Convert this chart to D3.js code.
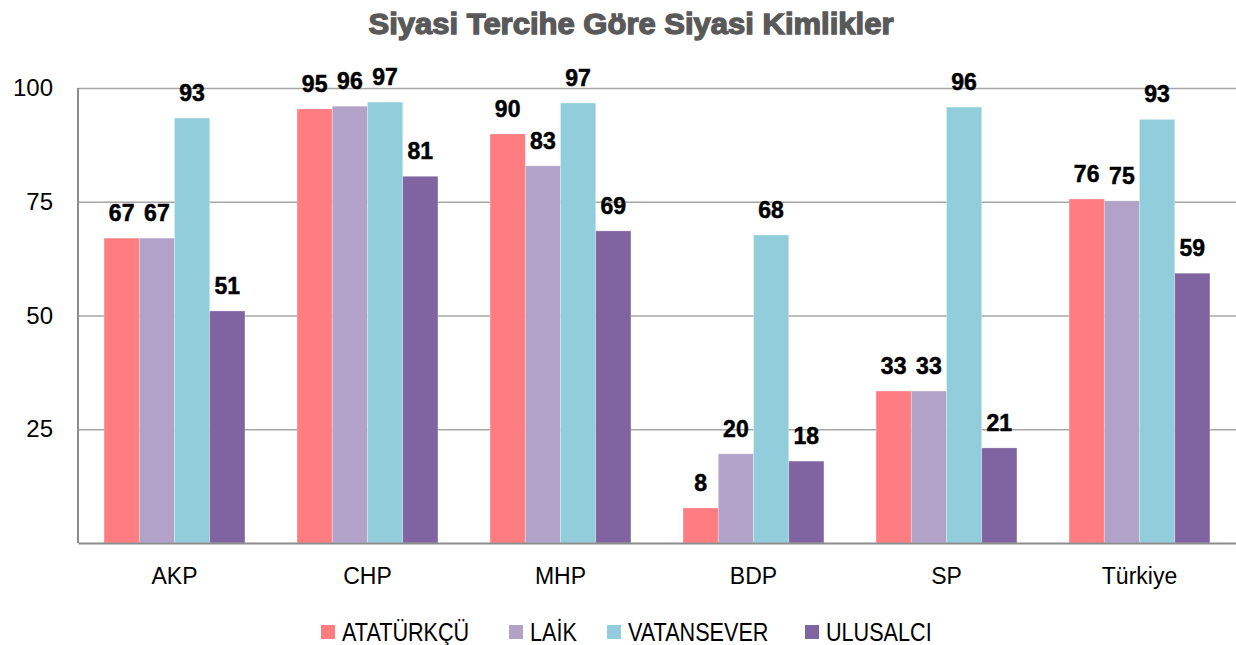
<!DOCTYPE html>
<html>
<head>
<meta charset="utf-8">
<script src="https://cdn.jsdelivr.net/npm/d3@7"></script>
<style>
  body { margin: 0; background: #fff; }
  svg { display: block; font-family: "Liberation Sans", Arial, sans-serif; }
</style>
</head>
<body>
<svg></svg>
<script>
// data
const parties = ["AKP", "CHP", "MHP", "BDP", "SP", "Türkiye"]
const identities = ["ATATÜRKÇÜ", "LAİK", "VATANSEVER", "ULUSALCI"]
const ataturkcu = [67.0, 95.4, 89.9, 7.7, 33.4, 75.6]
const laik = [67.0, 96.0, 82.9, 19.6, 33.4, 75.2]
const vatansever = [93.4, 96.9, 96.7, 67.7, 95.8, 93.1]
const ulusalci = [51.0, 80.6, 68.6, 18.0, 20.9, 59.3]
const yTicks = [25, 50, 75, 100]
const colors = ["#FF7C80", "#B2A2C7", "#92CDDC", "#8064A2"]

const series = [ataturkcu, laik, vatansever, ulusalci]

const svg = d3.select("svg")
    .attr("width", 1236)
    .attr("height", 645)

const scaleX = d3.scaleBand()
    .domain(parties)
    .range([78, 1236])
    .paddingInner(0.27)
    .paddingOuter(0.135)

const scaleSub = d3.scaleBand()
    .domain(identities)
    .range([0, scaleX.bandwidth()])

const scaleY = d3.scaleLinear()
    .domain([0, 100])
    .range([543, 88])

// title
svg.append("text")
    .attr("x", 631)
    .attr("y", 34)
    .attr("text-anchor", "middle")
    .attr("font-size", 29)
    .attr("font-weight", "bold")
    .attr("fill", "#595959")
    .attr("stroke", "#595959")
    .attr("stroke-width", 1.3)
    .attr("textLength", 525)
    .attr("lengthAdjust", "spacingAndGlyphs")
    .text("Siyasi Tercihe Göre Siyasi Kimlikler")

// gridlines + y labels
const yAxis = d3.axisLeft(scaleY)
    .tickValues(yTicks)
    .tickSize(-(1236 - 78))
    .tickPadding(25)

const gy = svg.append("g")
    .attr("transform", "translate(78,0)")
    .call(yAxis)

gy.select(".domain").remove()
gy.selectAll(".tick line")
    .attr("stroke", "#a6a6a6")
    .attr("stroke-width", 1.5)
gy.selectAll(".tick text")
    .attr("font-size", 24)
    .attr("fill", "#000")
    .attr("font-family", "Liberation Sans, Arial, sans-serif")

// bars
const groups = svg.selectAll("g.party")
    .data(parties)
    .enter()
    .append("g")
    .attr("class", "party")
    .attr("transform", d => `translate(${scaleX(d)},0)`)

groups.selectAll("rect")
    .data((d, i) => identities.map((k, j) => ({key: k, value: series[j][i], c: colors[j]})))
    .enter()
    .append("rect")
    .attr("x", d => scaleSub(d.key))
    .attr("y", d => scaleY(d.value))
    .attr("width", scaleSub.bandwidth())
    .attr("height", d => scaleY(0) - scaleY(d.value))
    .attr("fill", d => d.c)
    .attr("stroke", "#ffffff")
    .attr("stroke-opacity", 0.35)
    .attr("stroke-width", 0.8)

groups.selectAll("text.val")
    .data((d, i) => identities.map((k, j) => ({key: k, value: series[j][i]})))
    .enter()
    .append("text")
    .attr("class", "val")
    .attr("x", d => scaleSub(d.key) + scaleSub.bandwidth() / 2)
    .attr("y", d => scaleY(d.value) - 17)
    .attr("text-anchor", "middle")
    .attr("font-size", 23)
    .attr("font-weight", "bold")
    .attr("fill", "#000")
    .attr("stroke", "#000")
    .attr("stroke-width", 0.5)
    .text(d => d3.format(".0f")(d.value))

// axes lines
svg.append("line")
    .attr("x1", 78).attr("x2", 78)
    .attr("y1", scaleY(100)).attr("y2", scaleY(0))
    .attr("stroke", "#8c8c8c")
    .attr("stroke-width", 2)

const gx = svg.append("g")
    .attr("transform", `translate(0,${scaleY(0)})`)
    .call(d3.axisBottom(scaleX).tickSize(0).tickPadding(25))

gx.select(".domain")
    .attr("stroke", "#8c8c8c")
    .attr("stroke-width", 2)
gx.selectAll(".tick text")
    .attr("font-size", 23)
    .attr("fill", "#000")
    .attr("font-family", "Liberation Sans, Arial, sans-serif")

// legend
const legendX = [321, 509, 607, 805]
const legend = svg.selectAll("g.legend")
    .data(identities)
    .enter()
    .append("g")
    .attr("class", "legend")
    .attr("transform", (d, i) => `translate(${legendX[i]},625)`)

legend.append("rect")
    .attr("width", 14)
    .attr("height", 14)
    .attr("fill", (d, i) => colors[i])

// condensed look: squeeze the text horizontally
legend.append("text")
    .attr("transform", "translate(21,16) scale(0.864,1)")
    .attr("font-size", 25)
    .attr("fill", "#000")
    .text(d => d)
</script>
</body>
</html>
